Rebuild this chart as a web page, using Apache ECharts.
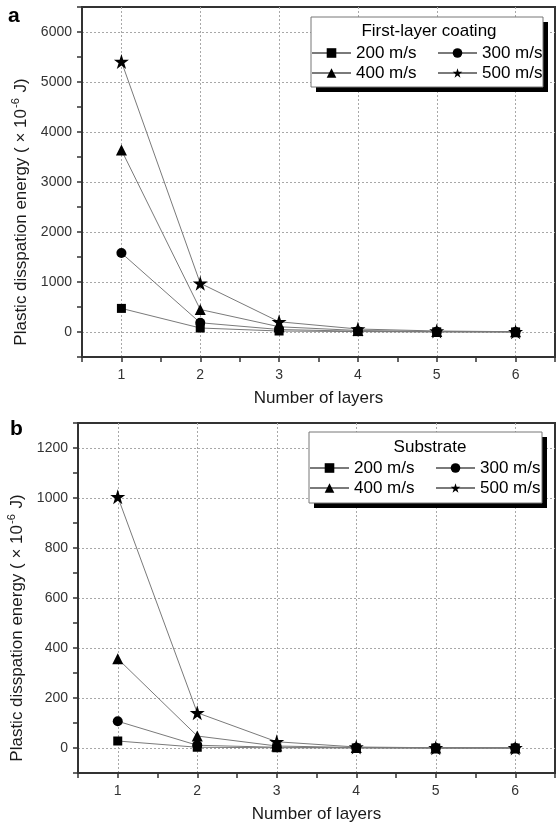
<!DOCTYPE html>
<html><head><meta charset="utf-8">
<script src="https://cdn.jsdelivr.net/npm/echarts@6/dist/echarts.min.js"></script>
<style>html,body{margin:0;padding:0;background:#fff}#c{width:556px;height:824px}</style>
</head><body><div id="c"></div>
<script>
// ---- data ----
const layers = [1, 2, 3, 4, 5, 6];
const speeds = ['200 m/s', '300 m/s', '400 m/s', '500 m/s'];
const coating200 = [472, 80, 20, 8, 3, 1];
const coating300 = [1580, 185, 50, 15, 5, 2];
const coating400 = [3640, 450, 105, 30, 10, 4];
const coating500 = [5410, 975, 205, 60, 20, 6];
const substrate200 = [28, 3, 1, 0.3, 0.1, 0.05];
const substrate300 = [107, 11, 3, 1, 0.3, 0.1];
const substrate400 = [357, 48, 8, 2, 0.5, 0.2];
const substrate500 = [1005, 141, 25, 4, 1, 0.4];
const panelTitles = ['First-layer coating', 'Substrate'];
const xName = 'Number of layers';

// ---- style ----
const F = 'Liberation Sans, Arial, sans-serif';
const STAR = 'path://M50,0 L61.2,34.5 L97.6,34.5 L68.2,55.9 L79.4,90.5 L50,69.1 L20.6,90.5 L31.8,55.9 L2.4,34.5 L38.8,34.5 Z';
const symbols = ['rect', 'circle', 'triangle', STAR];
const symbolSizes = [9, 10, 11, 15];

const grids = [
  {left: 82, top: 7, right: 1, height: 350, show: true, borderColor: '#333', borderWidth: 2, backgroundColor: 'transparent', containLabel: false, outerBoundsMode: 'none'},
  {left: 78, top: 423, right: 1, height: 350, show: true, borderColor: '#333', borderWidth: 2, backgroundColor: 'transparent', containLabel: false, outerBoundsMode: 'none'}
];

const gridColors = ['rgba(0,0,0,0)', '#a8a8a8'];

function xAxisFor(i) {
  return {
    type: 'value', gridIndex: i, min: 0.5, max: 6.5, interval: 0.5,
    name: xName, nameLocation: 'middle', nameGap: 33,
    nameTextStyle: {fontFamily: F, fontSize: 17, color: '#1a1a1a'},
    axisLine: {show: true, onZero: false, lineStyle: {color: '#333', width: 2}},
    axisTick: {show: true, inside: false, length: 5, lineStyle: {color: '#333', width: 1.5}},
    axisLabel: {fontFamily: F, fontSize: 14, color: '#333', margin: 11,
      formatter: v => Number.isInteger(v) ? String(v) : ''},
    splitLine: {show: true, lineStyle: {color: gridColors, type: [2, 2], width: 1}},
    minorTick: {show: false}
  };
}
function yAxisFor(i, min, max, interval, major) {
  return {
    type: 'value', gridIndex: i, min: min, max: max, interval: interval,
    name: '{n|Plastic disspation energy ( × 10}{s|-6}{n| J)}',
    nameLocation: 'middle', nameGap: 46, nameRotate: 90,
    nameTextStyle: {fontFamily: F, fontSize: 17, color: '#1a1a1a', padding: [0, 60, 0, 0],
      rich: {n: {fontFamily: F, fontSize: 17, color: '#1a1a1a', lineHeight: 20},
             s: {fontFamily: F, fontSize: 11, color: '#1a1a1a', lineHeight: 20, verticalAlign: 'top', padding: [0, 1, 8, 1]}}},
    axisLine: {show: true, onZero: false, lineStyle: {color: '#333', width: 2}},
    axisTick: {show: true, inside: false, length: 5, lineStyle: {color: '#333', width: 1.5}},
    axisLabel: {fontFamily: F, fontSize: 14, color: '#333', margin: 10,
      formatter: v => (Math.abs(v % major) < 1e-9 && v >= 0) ? String(v) : ''},
    splitLine: {show: true, lineStyle: {color: gridColors, type: [2, 2], width: 1}}
  };
}

const sets = [[coating200, coating300, coating400, coating500], [substrate200, substrate300, substrate400, substrate500]];
const series = [];
sets.forEach((arrs, gi) => {
  arrs.forEach((vals, si) => {
    series.push({
      type: 'line', name: speeds[si], xAxisIndex: gi, yAxisIndex: gi,
      data: layers.map((x, k) => [x, vals[k]]),
      symbol: symbols[si], symbolSize: symbolSizes[si], showAllSymbol: true,
      lineStyle: {color: '#7a7a7a', width: 1},
      itemStyle: {color: '#000', borderWidth: 0},
      emphasis: {disabled: true}, animation: false, z: 3
    });
  });
});

function legendFor(left, top, names) {
  return {
    orient: 'vertical', left: left, top: top, padding: 0, itemGap: 0,
    itemWidth: 39, itemHeight: 12, data: names, selectedMode: false, z: 20,
    textStyle: {fontFamily: F, fontSize: 17, lineHeight: 20, color: '#000'},
    backgroundColor: 'transparent'
  };
}

const option = {
  animation: false,
  backgroundColor: '#fff',
  grid: grids,
  xAxis: [xAxisFor(0), xAxisFor(1)],
  yAxis: [yAxisFor(0, -500, 6500, 500, 1000), yAxisFor(1, -100, 1300, 100, 200)],
  series: series,
  legend: [
    legendFor(311, 43, ['200 m/s', '400 m/s']),
    legendFor(437, 43, ['300 m/s', '500 m/s']),
    legendFor(309, 458, ['200 m/s', '400 m/s']),
    legendFor(435, 458, ['300 m/s', '500 m/s'])
  ],
  graphic: [
    {type: 'rect', z: 15, shape: {x: 316, y: 22, width: 232, height: 70}, style: {fill: '#000'}},
    {type: 'rect', z: 16, shape: {x: 311, y: 17, width: 232, height: 70}, style: {fill: '#fff', stroke: '#777', lineWidth: 1}},
    {type: 'text', z: 17, x: 429, y: 31, style: {text: panelTitles[0], font: '17px ' + F, fill: '#000', align: 'center', verticalAlign: 'middle'}},
    {type: 'rect', z: 15, shape: {x: 314, y: 437, width: 233, height: 71}, style: {fill: '#000'}},
    {type: 'rect', z: 16, shape: {x: 309, y: 432, width: 233, height: 71}, style: {fill: '#fff', stroke: '#777', lineWidth: 1}},
    {type: 'text', z: 17, x: 430, y: 447, style: {text: panelTitles[1], font: '17px ' + F, fill: '#000', align: 'center', verticalAlign: 'middle'}},
    {type: 'text', z: 17, x: 8, y: 16, style: {text: 'a', font: 'bold 21px ' + F, fill: '#000', verticalAlign: 'middle'}},
    {type: 'text', z: 17, x: 10, y: 429, style: {text: 'b', font: 'bold 21px ' + F, fill: '#000', verticalAlign: 'middle'}}
  ]
};

const chart = echarts.init(document.getElementById('c'), null, {renderer: 'canvas'});
chart.setOption(option);
</script>
</body></html>
